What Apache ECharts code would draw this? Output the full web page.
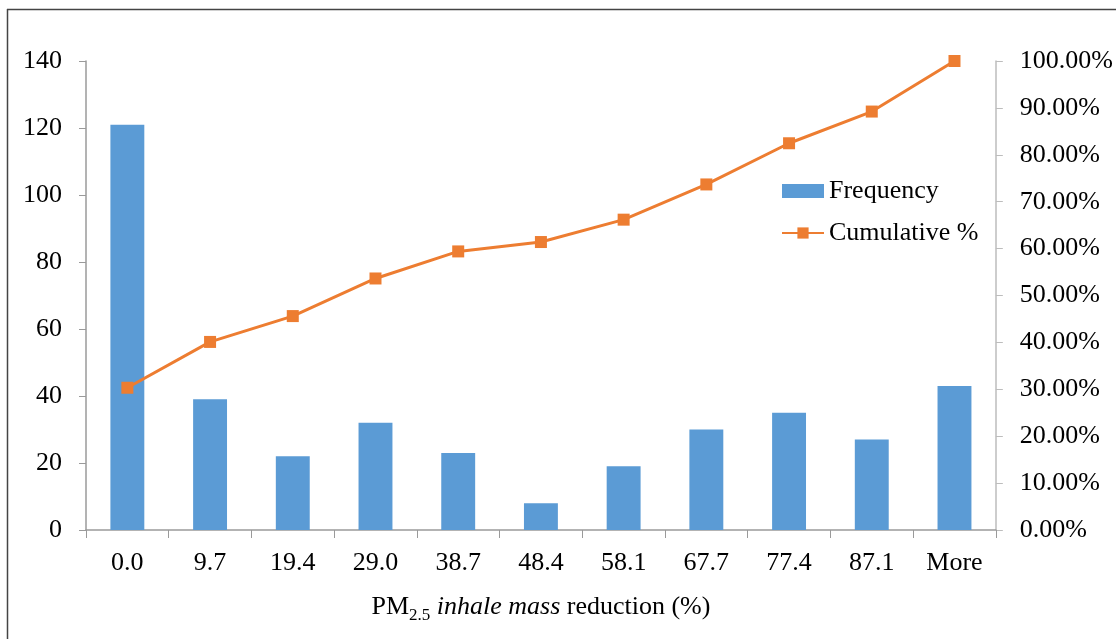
<!DOCTYPE html>
<html>
<head>
<meta charset="utf-8">
<script src="https://cdn.jsdelivr.net/npm/echarts@6/dist/echarts.min.js"></script>
<style>html,body{margin:0;padding:0;background:#fff;overflow:hidden;}#c{width:1116px;height:639px;}</style>
</head>
<body>
<div id="c"></div>
<script>
var categories = ['0.0','9.7','19.4','29.0','38.7','48.4','58.1','67.7','77.4','87.1','More'];
var frequency = [121, 39, 22, 32, 23, 8, 19, 30, 35, 27, 43];
var cumulative = [30.33, 40.10, 45.61, 53.63, 59.40, 61.40, 66.17, 73.68, 82.46, 89.22, 100.00];
var leftTicks = {min: 0, max: 140, interval: 20};
var rightTicks = {min: 0, max: 100, interval: 10};

var FONT = '"Liberation Serif", "Times New Roman", serif';
var FS = 26;
var chart = echarts.init(document.getElementById('c'), null, {renderer: 'canvas'});
chart.setOption({
  animation: false,
  backgroundColor: '#fff',
  textStyle: {fontFamily: FONT},
  graphic: [{
    type: 'line', silent: true,
    shape: {x1: 7.5, y1: 9, x2: 7.5, y2: 639},
    style: {stroke: '#444', lineWidth: 1.5}
  }, {
    type: 'line', silent: true,
    shape: {x1: 7, y1: 9.5, x2: 1116, y2: 9.5},
    style: {stroke: '#444', lineWidth: 1.5}
  }],
  grid: {left: 86, right: 119, top: 61, bottom: 109},
  legend: {
    orient: 'vertical', left: 776, top: 173, itemWidth: 42, itemHeight: 14, itemGap: 16,
    textStyle: {fontFamily: FONT, fontSize: FS, color: '#000'},
    data: [{name: 'Frequency', icon: 'rect'}, {name: 'Cumulative %'}]
  },
  xAxis: {
    type: 'category', data: categories,
    axisLine: {lineStyle: {color: '#9a9a9a', width: 1.5}},
    axisTick: {show: true, alignWithLabel: false, length: 8, lineStyle: {color: '#9a9a9a'}},
    axisLabel: {fontFamily: FONT, fontSize: FS, color: '#000', margin: 20},
    name: '{n|PM}{sub|2.5}{i| inhale mass}{n| reduction (%)}',
    nameLocation: 'middle', nameGap: 61,
    nameTextStyle: {
      fontFamily: FONT, fontSize: FS, color: '#000',
      rich: {
        n: {fontFamily: FONT, fontSize: FS, color: '#000'},
        i: {fontFamily: FONT, fontSize: FS, color: '#000', fontStyle: 'italic'},
        sub: {fontFamily: FONT, fontSize: 17, color: '#000', padding: [16, 0, 0, 0]}
      }
    }
  },
  yAxis: [{
    type: 'value', min: leftTicks.min, max: leftTicks.max, interval: leftTicks.interval,
    splitLine: {show: false},
    axisLine: {show: true, lineStyle: {color: '#9a9a9a', width: 1.5}},
    axisTick: {show: true, length: 7, lineStyle: {color: '#9a9a9a'}},
    axisLabel: {fontFamily: FONT, fontSize: FS, color: '#000', margin: 24}
  }, {
    type: 'value', min: rightTicks.min, max: rightTicks.max, interval: rightTicks.interval,
    position: 'right',
    splitLine: {show: false},
    axisLine: {show: true, lineStyle: {color: '#bdbdbd', width: 1.5}},
    axisTick: {show: true, length: 7, lineStyle: {color: '#bdbdbd'}},
    axisLabel: {fontFamily: FONT, fontSize: FS, color: '#000', margin: 24,
      formatter: function (v) { return v.toFixed(2) + '%'; }}
  }],
  series: [{
    name: 'Frequency', type: 'bar', data: frequency, barWidth: '41%',
    itemStyle: {color: '#5B9BD5'}
  }, {
    name: 'Cumulative %', type: 'line', yAxisIndex: 1, data: cumulative,
    symbol: 'rect', symbolSize: 12, showSymbol: true,
    lineStyle: {color: '#ED7D31', width: 3},
    itemStyle: {color: '#ED7D31'}
  }]
});
</script>
</body>
</html>
